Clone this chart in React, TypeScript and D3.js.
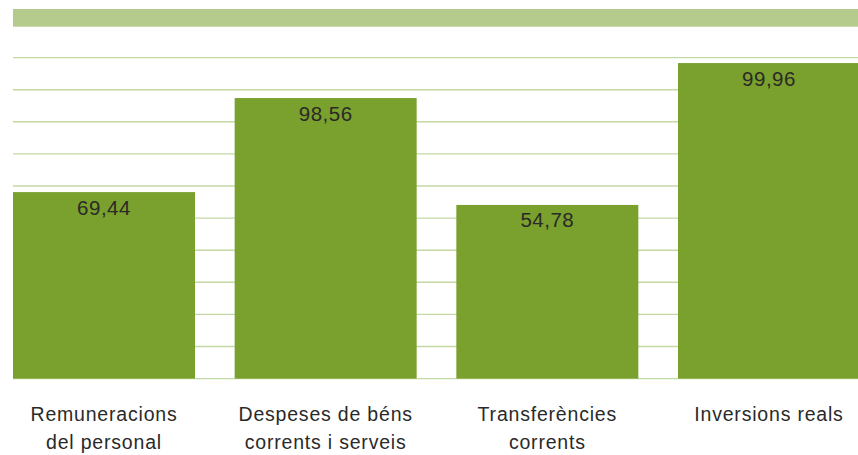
import React from "react";
import * as d3 from "d3";

const categories: string[][] = [
  ["Remuneracions", "del personal"],
  ["Despeses de béns", "corrents i serveis"],
  ["Transferències", "corrents"],
  ["Inversions reals"],
];
// bar heights as drawn in the picture (axis units, 0–100)
const barHeights: number[] = [58.1, 87.4, 54.1, 98.3];
// value labels printed on the bars
const valueLabels: string[] = ["69,44", "98,56", "54,78", "99,96"];
const gridTicks: number[] = [0, 10, 20, 30, 40, 50, 60, 70, 80, 90, 100];

const W = 858;
const H = 455;

export default function App() {
  const x = d3
    .scaleBand<number>()
    .domain(categories.map((_, i) => i))
    .range([13, 860])
    .paddingInner(0.179)
    .paddingOuter(0);
  const y = d3.scaleLinear().domain([0, 100]).range([378.6, 57.6]);
  const font = "'Liberation Sans', Arial, Helvetica, sans-serif";

  return (
    <svg
      width={W}
      height={H}
      style={{ position: "absolute", left: 0, top: 0, background: "#fff" }}
    >
      <rect x={13} y={9} width={W - 13} height={17.7} fill="#b5ca8d" />
      {gridTicks.map((t) => (
        <line
          key={t}
          x1={13}
          x2={W}
          y1={y(t)}
          y2={y(t)}
          stroke="#c3d9a3"
          strokeWidth={1.4}
        />
      ))}
      {barHeights.map((v, i) => (
        <rect
          key={i}
          x={x(i)}
          y={y(v)}
          width={x.bandwidth()}
          height={y(0) - y(v)}
          fill="#7aa02e"
        />
      ))}
      {valueLabels.map((s, i) => (
        <text
          key={i}
          x={(x(i) as number) + x.bandwidth() / 2}
          y={y(barHeights[i]) + 22.5}
          textAnchor="middle"
          fontFamily={font}
          fontSize={20.5}
          letterSpacing={0.5}
          fill="#2a2a26"
        >
          {s}
        </text>
      ))}
      {categories.map((lines, i) => (
        <text
          key={i}
          textAnchor="middle"
          fontFamily={font}
          fontSize={19.5}
          letterSpacing={0.8}
          fill="#2a2a2a"
        >
          {lines.map((l, j) => (
            <tspan
              key={j}
              x={(x(i) as number) + x.bandwidth() / 2}
              y={421 + j * 28}
            >
              {l}
            </tspan>
          ))}
        </text>
      ))}
    </svg>
  );
}
